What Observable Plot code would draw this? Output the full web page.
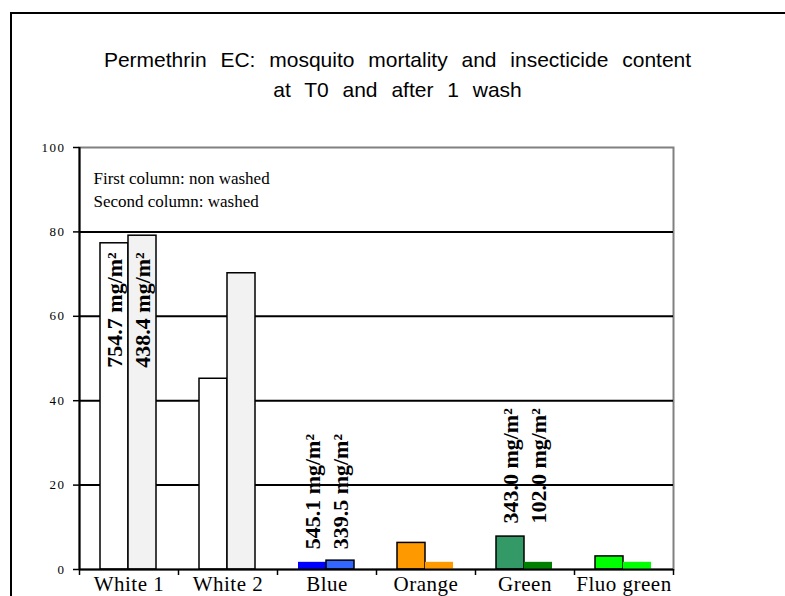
<!DOCTYPE html>
<html><head><meta charset="utf-8">
<script src="https://cdn.jsdelivr.net/npm/d3@7"></script>
<script src="https://cdn.jsdelivr.net/npm/@observablehq/plot@0.6"></script>
<style>
html,body{margin:0;padding:0;background:#fff;width:785px;height:596px;overflow:hidden;position:relative}
#frame{position:absolute;left:10px;top:12px;width:775px;height:584px;border-left:2px solid #000;border-top:2px solid #000;box-sizing:border-box;z-index:2;pointer-events:none}
#title{position:absolute;left:10px;top:45px;width:775px;text-align:center;font-family:"Liberation Sans",Arial,sans-serif;font-size:21px;line-height:30px;letter-spacing:0;word-spacing:8px;color:#000}
#chart{position:absolute;left:0;top:110px;z-index:1}
</style></head><body>
<div id="frame"></div>
<div id="title">Permethrin EC: mosquito mortality and insecticide content<br>at T0 and after 1 wash</div>
<div id="chart"></div>
<script>
// ---- data ----
const categories = ["White 1", "White 2", "Blue", "Orange", "Green", "Fluo green"];
const nonWashed = [77.3, 45.2, 1.7, 6.3, 7.8, 3.1];   // mortality %, first column
const washed    = [79.1, 70.2, 2.1, 1.7, 1.7, 1.7];   // mortality %, second column
const contentNonWashed = ["754.7 mg/m²", "", "545.1 mg/m²", "", "343.0 mg/m²", ""];
const contentWashed    = ["438.4 mg/m²", "", "339.5 mg/m²", "", "102.0 mg/m²", ""];
const yTicks = [0, 20, 40, 60, 80, 100];
const legendLines = ["First column: non washed", "Second column: washed"];

// ---- styles ----
const fillNonWashed = ["#ffffff", "#ffffff", "#0000ff", "#ff9900", "#339966", "#00ff00"];
const fillWashed    = ["#f2f2f2", "#f2f2f2", "#3366ff", "#ff9900", "#008000", "#00ff00"];
const edgeNonWashed = ["#000", "#000", "none", "#000", "#000", "#000"];
const edgeWashed    = ["#000", "#000", "#000", "none", "none", "none"];
const serif = "Liberation Serif, Times New Roman, serif";

// ---- layout ----
const W = 785, H = 486, mL = 79, mR = 112, mT = 37, mB = 27;
const step = (W - mL - mR) / categories.length;
const barW = 28, lead = 21;

const rowsNW = categories.map((cat, i) => ({cat, value: nonWashed[i], fill: fillNonWashed[i], edge: edgeNonWashed[i], label: contentNonWashed[i], anchor: nonWashed[i]}));
const rowsW  = categories.map((cat, i) => ({cat, value: washed[i], fill: fillWashed[i], edge: edgeWashed[i], label: contentWashed[i], anchor: nonWashed[i]}));

const labelMarks = (rows, dx) => [
  Plot.text(rows.filter(d => d.label && d.anchor > 50), {x: "cat", y: "anchor", text: "label", rotate: -90, textAnchor: "end", dx, dy: 9, fontSize: 22, fontWeight: "bold", fontFamily: serif, fill: "#000"}),
  Plot.text(rows.filter(d => d.label && d.anchor <= 50), {x: "cat", y: "anchor", text: "label", rotate: -90, textAnchor: "start", dx, dy: -13, fontSize: 22, fontWeight: "bold", fontFamily: serif, fill: "#000"})
];

const chart = Plot.plot({
  width: W, height: H,
  marginLeft: mL, marginRight: mR, marginTop: mT, marginBottom: mB,
  style: {fontFamily: serif, color: "#000", background: "transparent", overflow: "visible"},
  x: {domain: categories, padding: 0, axis: null},
  y: {domain: [0, 100], axis: null, label: null},
  color: {type: "identity"},
  marks: [
    Plot.frame({stroke: "#808080", strokeWidth: 2}),
    Plot.ruleY(yTicks.filter(t => t > 0 && t < 100), {stroke: "#000", strokeWidth: 2}),
    Plot.barY(rowsNW, {x: "cat", y: "value", fill: "fill", stroke: "edge", strokeWidth: 1.5, insetLeft: lead, insetRight: step - lead - barW}),
    Plot.barY(rowsW, {x: "cat", y: "value", fill: "fill", stroke: "edge", strokeWidth: 1.5, insetLeft: lead + barW, insetRight: step - lead - 2 * barW}),
    ...labelMarks(rowsNW, lead + barW / 2 - step / 2),
    ...labelMarks(rowsW, lead + 1.5 * barW - step / 2),
    Plot.ruleY([0], {stroke: "#000", strokeWidth: 2}),
    Plot.ruleX([categories[0]], {x: d => d, y1: 0, y2: 100, dx: -step / 2, stroke: "#000", strokeWidth: 2}),
    Plot.ruleX(categories, {x: d => d, y1: 0, y2: 0, insetTop: 0, insetBottom: -6, dx: -step / 2, stroke: "#000", strokeWidth: 1.5}),
    Plot.ruleX([categories[categories.length - 1]], {x: d => d, y1: 0, y2: 0, insetTop: 0, insetBottom: -6, dx: step / 2, stroke: "#000", strokeWidth: 1.5}),
    Plot.text([legendLines.join("\n")], {text: d => d, frameAnchor: "top-left", textAnchor: "start", lineAnchor: "top", dx: 14, dy: 19, lineHeight: 1.41, fontSize: 17, fontFamily: serif, fill: "#000"}),
    Plot.axisX({tickSize: 0, tickPadding: 7, fontSize: 21, fontFamily: serif, label: null, fill: "#000"}),
    Plot.axisY({ticks: yTicks, tickSize: 6, tickPadding: 8, fontSize: 13, fontFamily: serif, label: null, strokeWidth: 1.5, fill: "#000", tickFormat: d => String(d)})
  ]
});
document.getElementById("chart").appendChild(chart);
d3.select(chart).selectAll("g[aria-label^='y-axis'] text").style("letter-spacing", "1.5px");
d3.select(chart).selectAll("g[aria-label^='x-axis'] text").style("letter-spacing", "0.5px");
</script>
</body></html>
